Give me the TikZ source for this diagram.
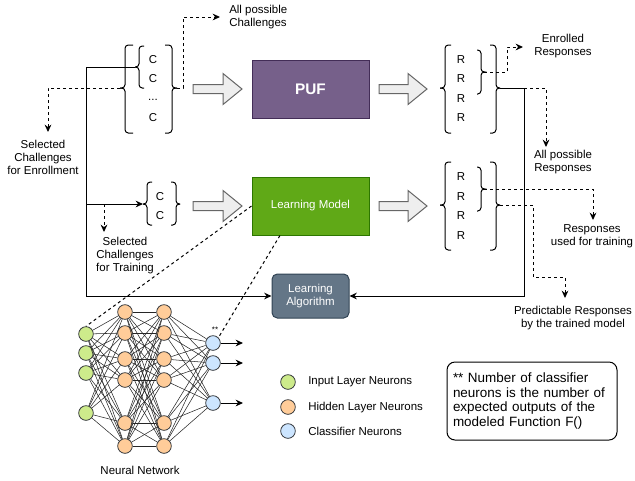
\documentclass[tikz,border=0pt]{standalone}
\usepackage{fontspec}
\setmainfont{Liberation Sans}
\usetikzlibrary{arrows.meta}
\definecolor{pufc}{HTML}{76608A}
\definecolor{pufb}{HTML}{432D57}
\definecolor{lmc}{HTML}{60A917}
\definecolor{lmb}{HTML}{2D7600}
\definecolor{lac}{HTML}{647687}
\definecolor{lab}{HTML}{314354}
\definecolor{ing}{HTML}{CDEB8B}
\definecolor{hid}{HTML}{FFCC99}
\definecolor{cls}{HTML}{CCE5FF}
\definecolor{nrb}{HTML}{36393D}
\definecolor{barf}{HTML}{EEEEEE}
\definecolor{barb}{HTML}{666666}
\tikzset{
  lbl/.style={font=\fontsize{8.6}{9.75}\selectfont, inner sep=0pt, align=center},
  brk/.style={line width=0.75pt, rounded corners=2.5pt},
  conn/.style={line width=0.75pt, -{Stealth[length=5.5pt,width=5pt]}},
  dsh/.style={conn, dash pattern=on 2.25pt off 2.25pt},
  dline/.style={line width=0.75pt, dash pattern=on 2.25pt off 2.25pt},
  box/.style={rectangle, line width=0.75pt, minimum width=87.75pt, minimum height=43.5pt, text=white},
  neuron/.style={circle, draw=nrb, line width=0.6pt, minimum size=11pt, inner sep=0pt},
  link/.style={line width=0.4pt, black!85},
  blockarr/.style={fill=barf, draw=barb, line width=0.75pt}
}
\newcommand{\lbrk}[7]{%
  \draw[brk] (#2+#6,#3) -- (#2,#3) -- (#2,#4) -- (#2-#7,#4);
  \draw[brk] (#2+#6,#5) -- (#2,#5) -- (#2,#4) -- (#2-#7,#4);
  \coordinate (#1) at (#2-#7,#4);}
\newcommand{\rbrk}[7]{%
  \draw[brk] (#2-#6,#3) -- (#2,#3) -- (#2,#4) -- (#2+#7,#4);
  \draw[brk] (#2-#6,#5) -- (#2,#5) -- (#2,#4) -- (#2+#7,#4);
  \coordinate (#1) at (#2+#7,#4);}
\newcommand{\barrow}[3]{%
  \draw[blockarr] (#1,#3-4.5) -- (#2-19,#3-4.5) -- (#2-19,#3-15.5) -- (#2,#3)
    -- (#2-19,#3+15.5) -- (#2-19,#3+4.5) -- (#1,#3+4.5) -- cycle;}
\begin{document}
\begin{tikzpicture}[x=0.75pt,y=-0.75pt]
\useasboundingbox (0,0) rectangle (635,480);

% main boxes
\node[box, fill=pufc, draw=pufb, font=\bfseries\fontsize{11.5}{13}\selectfont] (puf) at (310.5,89) {PUF};
\node[box, fill=lmc, draw=lmb, font=\fontsize{8.6}{9.75}\selectfont] (lm) at (310.5,206) {Learning Model};
\node[rectangle, rounded corners=4pt, fill=lac, draw=lab, line width=0.75pt, minimum width=57.75pt, minimum height=33pt, text=white, align=center, font=\fontsize{8.6}{9.75}\selectfont] (la) at (310.5,296) {Learning\\Algorithm};

% block arrows
\barrow{193}{242}{89}
\barrow{379}{427}{89}
\barrow{193}{242}{206}
\barrow{379}{427}{206}

% challenge braces
\lbrk{cLo}{125}{45}{88}{133}{8}{5}
\lbrk{cLi}{139}{46}{67}{88}{5}{4}
\rbrk{cRo}{172}{45}{88}{133}{7}{5}
\lbrk{cL2}{147}{182}{204}{225}{5}{4}
\rbrk{cR2}{176}{182}{204}{225}{5}{4}
\node[lbl] (c1) at (153,60) {C};
\node[lbl] (c2) at (153,79) {C};
\node[lbl] (c3) at (153,100) {...};
\node[lbl] (c4) at (153,118) {C};
\node[lbl] (c5) at (160,197) {C};
\node[lbl] (c6) at (160,216) {C};

% response braces
\lbrk{rLo}{445}{45}{88}{133}{6}{5}
\rbrk{rRi}{481}{50}{72}{94}{4}{3}
\rbrk{rRo}{496}{45}{88}{133}{6}{4}
\lbrk{rL2}{445}{162}{205}{250}{6}{5}
\rbrk{rRi2}{481}{167}{189}{211}{4}{3}
\rbrk{rRo2}{496}{162}{205}{250}{6}{4}
\node[lbl] (r1) at (461,60) {R};
\node[lbl] (r2) at (461,79) {R};
\node[lbl] (r3) at (461,99) {R};
\node[lbl] (r4) at (461,118) {R};
\node[lbl] (r5) at (461,177) {R};
\node[lbl] (r6) at (461,197) {R};
\node[lbl] (r7) at (461,216) {R};
\node[lbl] (r8) at (461,236) {R};

% labels
\node[lbl, align=left, anchor=west] (apc) at (229,17) {All possible\\Challenges};
\node[lbl] (sce) at (43,157) {Selected\\Challenges\\for Enrollment};
\node[lbl] (sct) at (125,256) {Selected\\Challenges\\for Training};
\node[lbl] (enr) at (563,46) {Enrolled\\Responses};
\node[lbl] (apr) at (563,162) {All possible\\Responses};
\node[lbl] (rut) at (592,236) {Responses\\used for training};
\node[lbl] (prd) at (573,318) {Predictable Responses\\by the trained model};

% connector end points
\coordinate (a1) at (220,17);
\coordinate (a2) at (48,132);
\coordinate (b2) at (104,204);
\coordinate (a3) at (104,232);
\coordinate (b1) at (86,204);
\coordinate (a4) at (523,47);
\coordinate (b3) at (524,88);
\coordinate (a5) at (546,147);
\coordinate (a6) at (593,220);
\coordinate (a7) at (565,298);

% solid connectors
\draw[conn] (cLi) -- ++(-49,0) |- (la.west);
\draw[conn] (b1) -- (cL2);
\draw[conn] (rRo) -- ++(24,0) |- (la.east);

% dashed connectors
\draw[dsh] (cRo) -- ++(6,0) |- (a1);
\draw[dsh] (cLo) -| (a2);
\draw[dsh] (b2) -- (a3);
\draw[dsh] (rRi) -- ++(23,0) |- (a4);
\draw[dsh] (b3) -| (a5);
\draw[dsh] (rRi2) -| (a6);
\draw[dsh] (rRo2) -| (533,277) -| (a7);

% neural network
\foreach \n/\y in {1/334,2/353,3/373,4/413}
  \node[neuron, fill=ing] (i\n) at (86,\y) {};
\foreach \n/\y in {1/312,2/333,3/359,4/380,5/423,6/446}{
  \node[neuron, fill=hid] (h\n) at (125,\y) {};
  \node[neuron, fill=hid] (g\n) at (164,\y) {};
}
\foreach \n/\y in {1/343,2/363,3/403}
  \node[neuron, fill=cls] (k\n) at (213,\y) {};
\foreach \a in {1,...,4}
  \foreach \b in {1,...,6}
    \draw[link] (i\a) -- (h\b);
\foreach \a in {1,...,6}
  \foreach \b in {1,...,6}
    \draw[link] (h\a) -- (g\b);
\foreach \a in {1,...,6}
  \foreach \b in {1,...,3}
    \draw[link] (g\a) -- (k\b);
\foreach \n/\y in {1/343,2/363,3/403}{
  \coordinate (o\n) at (243,\y);
  \draw[conn] (k\n) -- (o\n);
}
\node[font=\fontsize{6}{7}\selectfont, inner sep=0pt] (stars) at (215,330) {**};
\node[lbl] (nn) at (140,470) {Neural Network};

% dashed lines from learning model to network
\draw[dline] (lm.west) -- (i1.north);
\draw[dline] ([xshift=-22.9pt]lm.south) -- (k1.north east);

% legend
\node[neuron, fill=ing] (lg1) at (288,382) {};
\node[neuron, fill=hid] (lg2) at (288,407) {};
\node[neuron, fill=cls] (lg3) at (288,431) {};
\node[lbl, anchor=west] (lt1) at (308,382) {Input Layer Neurons};
\node[lbl, anchor=west] (lt2) at (308,408) {Hidden Layer Neurons};
\node[lbl, anchor=west] (lt3) at (308,431) {Classifier Neurons};

% note
\node[draw, line width=0.75pt, rounded corners=6pt, minimum width=127.5pt, minimum height=58.5pt, text width=118.5pt, inner sep=4.5pt, align=left, font=\fontsize{10.1}{11}\selectfont] (note) at (532,401) {** Number of classifier\\neurons is the number of\\expected outputs of the\\modeled Function F()};
\end{tikzpicture}
\end{document}
